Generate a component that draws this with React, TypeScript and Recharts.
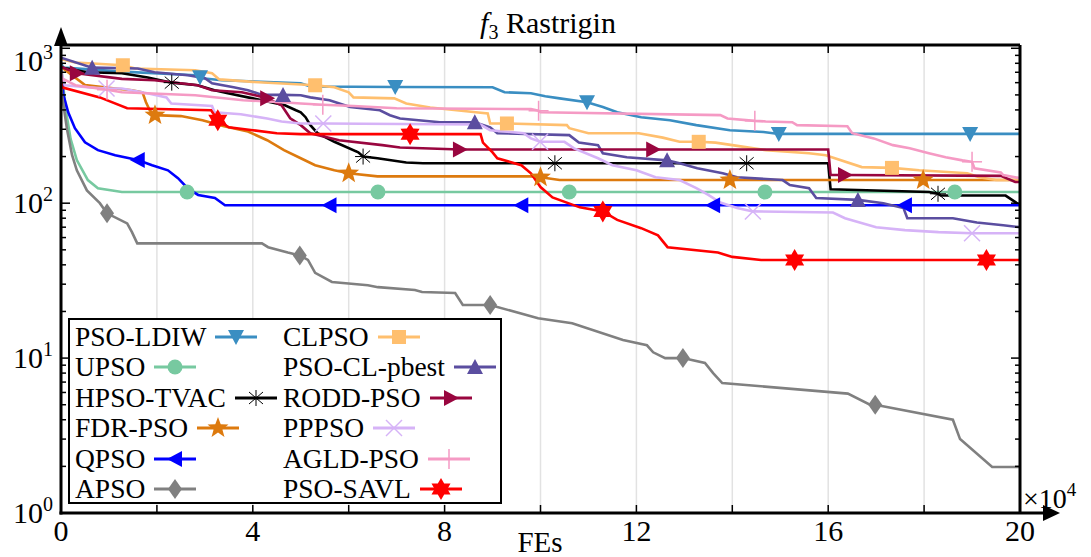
import React from "react";
import { CartesianGrid, Line, LineChart, XAxis, YAxis } from "recharts";

// [FEs (x1e4), best fitness, marker?]
type Pt = [number, number, number?];

const xTicks = [0, 2, 4, 6, 8, 10, 12, 14, 16, 18, 20];
const yTicks = [
  1, 2, 3, 4, 5, 6, 7, 8, 9,
  10, 20, 30, 40, 50, 60, 70, 80, 90,
  100, 200, 300, 400, 500, 600, 700, 800, 900,
  1000,
];

const psoLdiw: Pt[] = [
  [0, 800], [0.05, 750], [1.27, 707], [2.8, 669], [2.9, 650, 1], [2.95, 640], [3.35, 622],
  [5.0, 594], [5.2, 567], [6.97, 562, 1], [9.0, 560], [9.25, 520], [9.8, 512], [10.1, 490],
  [10.4, 475], [10.97, 448, 1], [11.3, 418], [11.6, 386], [12.1, 359], [12.7, 343],
  [13.25, 319], [13.95, 296], [14.65, 288], [14.97, 280, 1], [18.96, 280, 1], [20, 280],
];

const upso: Pt[] = [
  [0, 780], [0.04, 600], [0.1, 400], [0.2, 260], [0.33, 190], [0.56, 141], [0.77, 125],
  [1.27, 118], [2.63, 118, 1], [6.61, 118, 1], [10.6, 118, 1], [14.68, 118, 1],
  [18.64, 118, 1], [20, 118],
];

const hpsoTvac: Pt[] = [
  [0, 750], [0.55, 700], [1.27, 690], [1.81, 648], [2.31, 600, 1], [2.85, 577], [3.2, 536],
  [3.48, 512], [4.0, 475], [4.67, 429], [4.9, 398], [5.0, 386], [5.1, 359], [5.2, 319],
  [5.35, 283], [5.7, 249], [6.2, 213], [6.3, 200, 1], [6.6, 195], [7.2, 183], [7.55, 181],
  [10.3, 181, 1], [14.3, 181, 1], [16.0, 181], [16.05, 123], [18.1, 118], [18.29, 115, 1],
  [18.35, 112], [19.7, 112], [20, 97],
];

const fdrPso: Pt[] = [
  [0, 760], [0.5, 580], [1.13, 550], [1.48, 536], [1.7, 520], [1.77, 450], [1.85, 398],
  [1.96, 370, 1], [2.5, 365], [2.95, 343], [3.4, 314], [3.9, 290], [4.3, 255], [4.65, 220],
  [5.0, 195], [5.3, 176], [5.7, 163], [6.0, 156, 1], [6.6, 149], [9.8, 149], [10.0, 147, 1],
  [10.4, 141], [13.95, 141, 1], [17.98, 141, 1], [20, 141],
];

const qpso: Pt[] = [
  [0, 720], [0.05, 500], [0.15, 386], [0.29, 305], [0.5, 247], [0.77, 220], [1.13, 204],
  [1.6, 190, 1], [1.9, 176], [2.23, 163], [2.44, 145], [2.65, 124], [2.86, 113],
  [3.21, 108], [3.42, 97], [5.6, 97, 1], [9.6, 97, 1], [13.6, 97, 1], [17.6, 97, 1], [20, 97],
];

const apso: Pt[] = [
  [0, 750], [0.02, 500], [0.125, 300], [0.23, 205], [0.33, 163], [0.54, 121], [0.81, 100],
  [0.96, 86, 1], [1.38, 74], [1.48, 65], [1.59, 55], [4.19, 55], [4.32, 52], [4.73, 48],
  [4.98, 46, 1], [5.15, 43], [5.3, 35.5], [5.65, 31], [6.4, 29.5], [6.61, 28.7],
  [7.38, 27.5], [7.53, 26.7], [8.22, 26.3], [8.38, 22], [8.95, 22, 1], [9.95, 18.1],
  [10.66, 16.8], [11.72, 13.1], [12.22, 12.1], [12.35, 10.9], [12.6, 10], [12.97, 10, 1],
  [13.43, 9.3], [13.6, 8.0], [13.79, 6.9], [16.41, 5.9], [16.87, 5.0], [16.98, 5.0, 1],
  [18.6, 4.0], [18.75, 3.0], [19.42, 1.98], [20, 1.98],
];

const clpso: Pt[] = [
  [0, 850], [0.3, 810], [1.29, 777, 1], [1.55, 740], [2.8, 721], [3.15, 690], [3.3, 630],
  [4.0, 607], [5.3, 577, 1], [5.7, 560], [6.0, 520], [6.1, 482], [6.95, 475], [7.2, 440],
  [7.7, 415], [8.65, 386], [8.9, 380], [8.95, 327], [9.3, 327, 1], [10.55, 319],
  [10.6, 305], [11.0, 283], [12.05, 283], [12.55, 265], [12.9, 249], [13.3, 249, 1],
  [13.65, 246], [14.0, 237], [14.7, 220], [15.6, 210], [15.95, 204], [16.7, 171],
  [17.33, 169, 1], [17.9, 163], [18.9, 156], [19.15, 147], [19.5, 141], [20, 141],
];

const psoClPbest: Pt[] = [
  [0, 870], [0.65, 750, 1], [1.6, 740], [1.95, 700], [2.65, 669], [3.0, 640], [3.15, 594],
  [3.6, 560], [3.9, 536], [4.2, 500], [4.63, 500, 1], [5.0, 497], [5.2, 482], [5.6, 462],
  [6.03, 418], [6.65, 398], [6.86, 370], [7.07, 352], [7.9, 333], [8.63, 333, 1],
  [8.95, 309], [9.1, 283], [10.6, 275], [10.8, 246], [11.2, 237], [11.3, 210], [11.8, 198],
  [12.64, 189, 1], [12.9, 181], [13.27, 168], [13.8, 156], [14.1, 147], [15.05, 141],
  [15.2, 131], [15.6, 125], [15.75, 108], [16.62, 105, 1], [17.15, 100], [17.57, 93],
  [17.65, 80], [18.6, 80], [19.1, 75], [19.65, 72], [20, 70],
];

const roddPso: Pt[] = [
  [0, 760], [0.33, 690, 1], [1.27, 635], [1.95, 622], [2.85, 577], [3.15, 536], [3.77, 520],
  [4.05, 497], [4.3, 475, 1], [4.6, 429], [4.78, 353], [5.0, 319], [5.2, 283], [5.8, 255],
  [6.7, 237], [7.07, 229], [8.32, 222, 1], [12.35, 222, 1], [16.0, 222], [16.05, 152],
  [16.35, 152, 1], [19.6, 150], [19.9, 137], [20, 137],
];

const pppso: Pt[] = [
  [0, 720], [0.05, 622], [0.08, 577], [0.55, 560], [0.95, 550, 1], [1.27, 550], [1.8, 512],
  [2.2, 482], [2.3, 440], [3.15, 424], [3.2, 386], [3.75, 375], [4.3, 352], [4.6, 337],
  [5.0, 327], [5.47, 327, 1], [8.75, 322], [8.95, 296], [9.65, 283], [9.8, 262],
  [9.99, 249, 1], [10.5, 249], [10.7, 226], [11.2, 195], [11.5, 176], [12.0, 163],
  [12.4, 147], [12.9, 141], [13.25, 125], [13.5, 113], [13.75, 101], [14.1, 93],
  [14.43, 88.5, 1], [16.1, 87], [16.35, 80], [17.0, 70], [17.6, 67], [18.3, 65],
  [19.0, 64, 1], [20, 64],
];

const agldPso: Pt[] = [
  [0, 700], [0.02, 640], [0.3, 577], [0.96, 540, 1], [1.27, 520], [2.8, 497], [3.8, 462],
  [4.7, 447], [5.0, 440], [5.46, 432, 1], [6.1, 424], [7.0, 410], [9.8, 405], [9.96, 395, 1],
  [10.0, 386], [13.75, 370], [13.9, 352], [14.47, 340, 1], [14.7, 337], [15.25, 333],
  [15.35, 319], [16.4, 314], [16.5, 283], [16.95, 262], [17.35, 237], [17.7, 226],
  [18.1, 210], [18.45, 198], [18.8, 189], [19.0, 185, 1], [19.05, 168], [19.6, 158],
  [19.65, 152], [20, 145],
];

const psoSavl: Pt[] = [
  [0, 620], [0.02, 560], [0.81, 482], [1.38, 410], [3.13, 398], [3.27, 343, 1], [3.5, 309],
  [4.0, 296], [4.5, 283], [5.0, 279], [7.28, 279, 1], [8.75, 279], [8.8, 246], [9.0, 213],
  [9.1, 195], [9.6, 176], [9.8, 156], [10.0, 127], [10.25, 109], [10.82, 94],
  [11.3, 88.5, 1], [11.6, 78], [12.1, 69], [12.45, 62], [12.65, 52], [13.7, 48], [14.0, 45],
  [14.6, 43], [15.3, 43, 1], [19.3, 43, 1], [20, 43],
];

type MarkerKind =
  | "down" | "up" | "left" | "right" | "circle" | "diamond"
  | "square" | "star" | "hex" | "asterisk" | "cross" | "plus";

const series: { name: string; color: string; marker: MarkerKind; pts: Pt[] }[] = [
  { name: "PSO-LDIW", color: "#3a8ec2", marker: "down", pts: psoLdiw },
  { name: "UPSO", color: "#77c9a0", marker: "circle", pts: upso },
  { name: "HPSO-TVAC", color: "#000000", marker: "asterisk", pts: hpsoTvac },
  { name: "FDR-PSO", color: "#dd7a0e", marker: "star", pts: fdrPso },
  { name: "QPSO", color: "#0000ff", marker: "left", pts: qpso },
  { name: "APSO", color: "#808080", marker: "diamond", pts: apso },
  { name: "CLPSO", color: "#ffbf6e", marker: "square", pts: clpso },
  { name: "PSO-CL-pbest", color: "#5b4ea0", marker: "up", pts: psoClPbest },
  { name: "RODD-PSO", color: "#99063f", marker: "right", pts: roddPso },
  { name: "PPPSO", color: "#d6b3f7", marker: "cross", pts: pppso },
  { name: "AGLD-PSO", color: "#f59ac4", marker: "plus", pts: agldPso },
  { name: "PSO-SAVL", color: "#ff0000", marker: "hex", pts: psoSavl },
];

const W = 1091;
const H = 557;
const LEFT = 61;
const RIGHT = 1020;
const TOP = 45;
const BOTTOM = 513;
const FONT = "'Liberation Serif', 'Times New Roman', serif";

function starPoints(x: number, y: number, n: number, R: number, r: number) {
  const p: string[] = [];
  for (let i = 0; i < n * 2; i++) {
    const rad = i % 2 === 0 ? R : r;
    const a = -Math.PI / 2 + (i * Math.PI) / n;
    p.push(`${x + rad * Math.cos(a)},${y + rad * Math.sin(a)}`);
  }
  return p.join(" ");
}

function Marker({ kind, x, y, color }: { kind: MarkerKind; x: number; y: number; color: string }) {
  switch (kind) {
    case "down":
      return <polygon points={`${x - 8},${y - 7} ${x + 8},${y - 7} ${x},${y + 8}`} fill={color} />;
    case "up":
      return <polygon points={`${x - 8},${y + 7} ${x + 8},${y + 7} ${x},${y - 8}`} fill={color} />;
    case "left":
      return <polygon points={`${x + 7},${y - 8} ${x + 7},${y + 8} ${x - 8},${y}`} fill={color} />;
    case "right":
      return <polygon points={`${x - 7},${y - 8} ${x - 7},${y + 8} ${x + 8},${y}`} fill={color} />;
    case "circle":
      return <circle cx={x} cy={y} r={7.5} fill={color} />;
    case "diamond":
      return <polygon points={`${x},${y - 10} ${x + 7},${y} ${x},${y + 10} ${x - 7},${y}`} fill={color} />;
    case "square":
      return <rect x={x - 7} y={y - 7} width={14} height={14} fill={color} />;
    case "star":
      return <polygon points={starPoints(x, y, 5, 11, 4.6)} fill={color} />;
    case "hex":
      return <polygon points={starPoints(x, y, 6, 11, 6.4)} fill={color} />;
    case "asterisk":
      return (
        <g stroke={color} strokeWidth={1}>
          <line x1={x} y1={y - 8} x2={x} y2={y + 8} />
          <line x1={x - 7} y1={y - 6} x2={x + 7} y2={y + 6} />
          <line x1={x - 7} y1={y + 6} x2={x + 7} y2={y - 6} />
          <line x1={x - 8} y1={y} x2={x + 8} y2={y} />
        </g>
      );
    case "cross":
      return (
        <g stroke={color} strokeWidth={1.5}>
          <line x1={x - 8} y1={y - 8} x2={x + 8} y2={y + 8} />
          <line x1={x - 8} y1={y + 8} x2={x + 8} y2={y - 8} />
        </g>
      );
    case "plus":
      return (
        <g stroke={color} strokeWidth={1.5}>
          <line x1={x} y1={y - 10} x2={x} y2={y + 10} />
          <line x1={x - 10} y1={y} x2={x + 10} y2={y} />
        </g>
      );
  }
  return null;
}

function XTick(props: any) {
  const { x, payload } = props;
  const v = payload.value as number;
  return (
    <g>
      <line x1={x} x2={x} y1={BOTTOM} y2={BOTTOM - 8} stroke="#000" strokeWidth={1.5} />
      <line x1={x} x2={x} y1={TOP} y2={TOP + 8} stroke="#000" strokeWidth={1.5} />
      {v % 4 === 0 && (
        <text x={x} y={541} textAnchor="middle" fontSize={30} fontFamily={FONT} fill="#000">
          {v}
        </text>
      )}
    </g>
  );
}

function YTick(props: any) {
  const { y, payload } = props;
  const v = payload.value as number;
  const e = Math.log10(v);
  const major = Math.abs(e - Math.round(e)) < 1e-6;
  const len = major ? 9 : 5;
  const ty = y + 10 + (v === 1000 ? 13 : 0);
  return (
    <g>
      <line x1={LEFT} x2={LEFT + len} y1={y} y2={y} stroke="#000" strokeWidth={1.5} />
      <line x1={RIGHT - len} x2={RIGHT} y1={y} y2={y} stroke="#000" strokeWidth={1.5} />
      {major && (
        <text x={53} y={ty} textAnchor="end" fontSize={30} fontFamily={FONT} fill="#000">
          10
          <tspan dy={-12} fontSize={20}>
            {Math.round(e)}
          </tspan>
        </text>
      )}
    </g>
  );
}

function makeDot(color: string, kind: MarkerKind) {
  return (props: any) => {
    const { cx, cy, payload, index } = props;
    if (!payload || !payload.m) return <g key={`d${index}`} />;
    return (
      <g key={`d${index}`}>
        <Marker kind={kind} x={cx} y={cy} color={color} />
      </g>
    );
  };
}

function LegendItem({ s }: { s: (typeof series)[number] }) {
  return (
    <div style={{ display: "flex", alignItems: "center", height: 30.5, whiteSpace: "nowrap" }}>
      <span>{s.name}</span>
      <svg width={42} height={24} style={{ marginLeft: 9, overflow: "visible" }}>
        <line x1={0} x2={42} y1={12} y2={12} stroke={s.color} strokeWidth={3} />
        <Marker kind={s.marker} x={21} y={12} color={s.color} />
      </svg>
    </div>
  );
}

export default function App() {
  const col1 = series.slice(0, 6);
  const col2 = series.slice(6);
  return (
    <div style={{ position: "absolute", left: 0, top: 0, width: W, height: H, background: "#fff", fontFamily: FONT }}>
      <LineChart width={W} height={H} margin={{ top: TOP, right: W - RIGHT, bottom: H - BOTTOM - 1, left: LEFT - 1 }}>
        <CartesianGrid horizontal={false} stroke="#e2e2e2" strokeWidth={1.5} />
        <XAxis
          type="number"
          dataKey="x"
          domain={[0, 20]}
          ticks={xTicks}
          interval={0}
          height={1}
          axisLine={false}
          tickLine={false}
          tick={<XTick />}
          allowDataOverflow
        />
        <YAxis
          type="number"
          scale="log"
          domain={[1, 1050]}
          ticks={yTicks}
          interval={0}
          width={1}
          axisLine={false}
          tickLine={false}
          tick={<YTick />}
          allowDataOverflow
        />
        {series.map((s) => (
          <Line
            key={s.name}
            data={s.pts.map(([x, y, m]) => ({ x, y, m: m ? 1 : 0 }))}
            dataKey="y"
            type="linear"
            stroke={s.color}
            strokeWidth={2.6}
            dot={makeDot(s.color, s.marker)}
            activeDot={false}
            isAnimationActive={false}
          />
        ))}
      </LineChart>

      <svg width={W} height={H} style={{ position: "absolute", left: 0, top: 0, pointerEvents: "none" }}>
        <g stroke="#000" strokeWidth={3} fill="none">
          <line x1={LEFT} y1={BOTTOM + 1.5} x2={LEFT} y2={40} />
          <line x1={LEFT - 1.5} y1={BOTTOM} x2={1046} y2={BOTTOM} />
          <line x1={LEFT} y1={TOP} x2={RIGHT} y2={TOP} />
          <line x1={RIGHT} y1={TOP} x2={RIGHT} y2={BOTTOM} />
        </g>
        <polygon points={`${LEFT},27 ${LEFT - 7},46 ${LEFT + 7},46`} fill="#000" />
        <polygon points={`1060,${BOTTOM} 1043,${BOTTOM - 8} 1043,${BOTTOM + 8}`} fill="#000" />
        <text x={548} y={33} textAnchor="middle" fontSize={30} fontFamily={FONT} fill="#000">
          <tspan fontStyle="italic">f</tspan>
          <tspan fontSize={20} dy={6}>3</tspan>
          <tspan dy={-6}> Rastrigin</tspan>
        </text>
        <text x={540} y={552} textAnchor="middle" fontSize={29} fontFamily={FONT} fill="#000">
          FEs
        </text>
        <text x={1023} y={508} fontSize={28} fontFamily={FONT} fill="#000">
          ×10
          <tspan dy={-12} fontSize={19}>4</tspan>
        </text>
      </svg>

      <div
        style={{
          position: "absolute",
          left: 68,
          top: 318,
          width: 434,
          height: 186,
          boxSizing: "border-box",
          border: "2.5px solid #000",
          background: "#fff",
          fontSize: 27.5,
          color: "#000",
        }}
      >
        <div style={{ position: "absolute", left: 5, top: 1.5 }}>
          {col1.map((s) => (
            <LegendItem key={s.name} s={s} />
          ))}
        </div>
        <div style={{ position: "absolute", left: 213, top: 1.5 }}>
          {col2.map((s) => (
            <LegendItem key={s.name} s={s} />
          ))}
        </div>
      </div>
    </div>
  );
}
